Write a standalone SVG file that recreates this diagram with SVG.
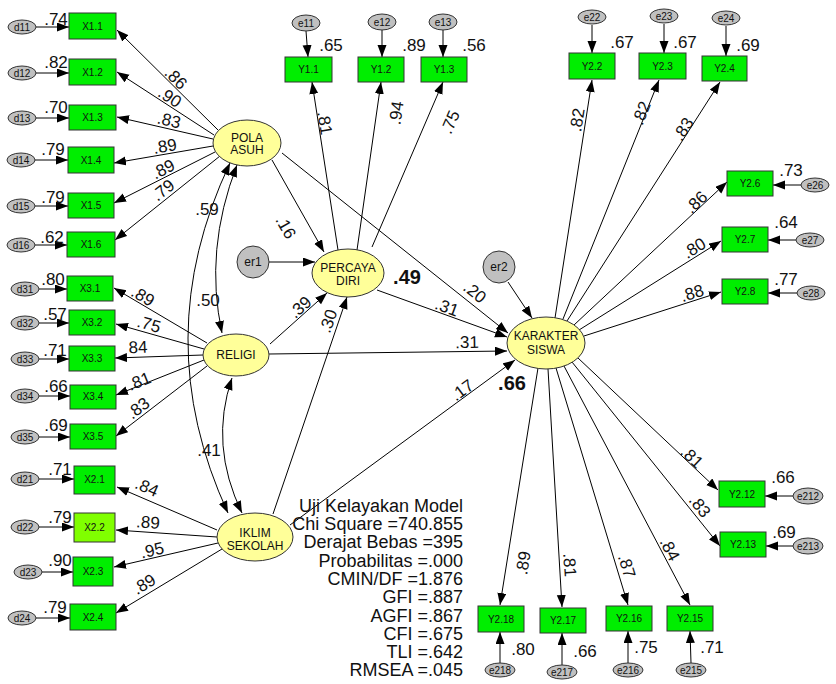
<svg xmlns="http://www.w3.org/2000/svg" width="836" height="684" viewBox="0 0 836 684">
<style>
.box{fill:#00ee00;stroke:#333;stroke-width:1}
.box2{fill:#80ff00;stroke:#333;stroke-width:1}
.lat{fill:#ffff99;stroke:#333;stroke-width:1}
.err{fill:#c0c0c0;stroke:#333;stroke-width:1}
.ln{fill:none;stroke:#000;stroke-width:1;marker-end:url(#ah)}
.arc{fill:none;stroke:#000;stroke-width:1;marker-end:url(#ah);marker-start:url(#ahs)}
text{font-family:"Liberation Sans",Arial,sans-serif;fill:#111}
.lb{font-size:17px;text-anchor:middle}
.sm{font-size:10px;text-anchor:middle}
.md{font-size:12px;text-anchor:middle}
.bd{font-size:20px;font-weight:bold;text-anchor:middle}
.st{font-size:18px;text-anchor:end}
</style>
<defs>
<marker id="ah" markerUnits="userSpaceOnUse" markerWidth="12" markerHeight="10" refX="12" refY="4.5" orient="auto"><path d="M0,0 L12,4.5 L0,9 z" fill="#000"/></marker>
<marker id="ahs" markerUnits="userSpaceOnUse" markerWidth="12" markerHeight="10" refX="12" refY="4.5" orient="auto-start-reverse"><path d="M0,0 L12,4.5 L0,9 z" fill="#000"/></marker>
</defs>
<rect width="836" height="684" fill="#fff"/>

<g id="connectors">
<!-- d -> X -->
<line class="ln" x1="36" y1="27" x2="69" y2="27"/>
<line class="ln" x1="36" y1="73" x2="69" y2="73"/>
<line class="ln" x1="36" y1="118" x2="69" y2="118"/>
<line class="ln" x1="35" y1="160" x2="68" y2="160"/>
<line class="ln" x1="35" y1="206" x2="68" y2="206"/>
<line class="ln" x1="35" y1="245" x2="67" y2="245"/>
<line class="ln" x1="39" y1="289" x2="67" y2="289"/>
<line class="ln" x1="39" y1="323" x2="69" y2="323"/>
<line class="ln" x1="39" y1="359" x2="69" y2="359"/>
<line class="ln" x1="39" y1="396" x2="70" y2="396"/>
<line class="ln" x1="39" y1="437" x2="70" y2="437"/>
<line class="ln" x1="39" y1="479" x2="74" y2="479"/>
<line class="ln" x1="39" y1="527" x2="74" y2="527"/>
<line class="ln" x1="42" y1="572" x2="73" y2="572"/>
<line class="ln" x1="36" y1="618" x2="70" y2="618"/>
<!-- e -> Y -->
<line class="ln" x1="306" y1="31" x2="308" y2="57"/>
<line class="ln" x1="382" y1="30" x2="382" y2="57"/>
<line class="ln" x1="443" y1="30" x2="443" y2="57"/>
<line class="ln" x1="592" y1="25" x2="592" y2="53"/>
<line class="ln" x1="664" y1="24" x2="664" y2="53"/>
<line class="ln" x1="726" y1="26" x2="726" y2="56"/>
<line class="ln" x1="801" y1="185" x2="773" y2="185"/>
<line class="ln" x1="796" y1="240" x2="768" y2="240"/>
<line class="ln" x1="797" y1="293" x2="768" y2="293"/>
<line class="ln" x1="793" y1="496" x2="765" y2="496"/>
<line class="ln" x1="793" y1="546" x2="766" y2="546"/>
<line class="ln" x1="500" y1="663" x2="500" y2="632"/>
<line class="ln" x1="562" y1="665" x2="562" y2="633"/>
<line class="ln" x1="628" y1="663" x2="628" y2="631"/>
<line class="ln" x1="691" y1="663" x2="690" y2="631"/>
<!-- POLA ASUH -> X1 -->
<line class="ln" x1="218" y1="130" x2="117" y2="30"/>
<line class="ln" x1="214" y1="135" x2="117" y2="72"/>
<line class="ln" x1="213" y1="139" x2="117" y2="117"/>
<line class="ln" x1="213" y1="146" x2="114" y2="163"/>
<line class="ln" x1="215" y1="152" x2="114" y2="203"/>
<line class="ln" x1="220" y1="156" x2="115" y2="240"/>
<!-- RELIGI -> X3 -->
<line class="ln" x1="207" y1="343" x2="114" y2="288"/>
<line class="ln" x1="204" y1="349" x2="116" y2="324"/>
<line class="ln" x1="203" y1="355" x2="115" y2="358"/>
<line class="ln" x1="204" y1="360" x2="116" y2="395"/>
<line class="ln" x1="207" y1="366" x2="116" y2="436"/>
<!-- IKLIM -> X2 -->
<line class="ln" x1="217" y1="530" x2="117" y2="487"/>
<line class="ln" x1="217" y1="537" x2="116" y2="530"/>
<line class="ln" x1="218" y1="543" x2="114" y2="567"/>
<line class="ln" x1="222" y1="549" x2="116" y2="613"/>
<!-- correlations -->
<path class="arc" d="M230,163 Q147,338 228,513"/>
<path class="arc" d="M237,165 Q204,250 222,333"/>
<path class="arc" d="M232,378 Q209,445 242,513"/>
<!-- structural -->
<line class="ln" x1="272" y1="160" x2="324" y2="252"/>
<line class="ln" x1="282" y1="153" x2="508" y2="333"/>
<line class="ln" x1="269" y1="262" x2="315" y2="262"/>
<line class="ln" x1="508" y1="282" x2="532" y2="318"/>
<line class="ln" x1="377" y1="290" x2="507" y2="337"/>
<line class="ln" x1="269" y1="354" x2="507" y2="351"/>
<line class="ln" x1="270" y1="344" x2="327" y2="293"/>
<line class="ln" x1="273" y1="514" x2="347" y2="297"/>
<line class="ln" x1="290" y1="525" x2="515" y2="360"/>
<!-- PERCAYA DIRI -> Y1 -->
<line class="ln" x1="338" y1="250" x2="312" y2="82"/>
<line class="ln" x1="357" y1="250" x2="381" y2="82"/>
<line class="ln" x1="372" y1="247" x2="443" y2="82"/>
<!-- KARAKTER -> Y2 -->
<line class="ln" x1="555" y1="318" x2="592" y2="80"/>
<line class="ln" x1="563" y1="319" x2="659" y2="80"/>
<line class="ln" x1="567" y1="321" x2="720" y2="82"/>
<line class="ln" x1="574" y1="325" x2="727" y2="182"/>
<line class="ln" x1="579" y1="330" x2="721" y2="241"/>
<line class="ln" x1="584" y1="336" x2="721" y2="292"/>
<line class="ln" x1="578" y1="358" x2="718" y2="490"/>
<line class="ln" x1="572" y1="362" x2="720" y2="546"/>
<line class="ln" x1="564" y1="366" x2="690" y2="605"/>
<line class="ln" x1="556" y1="368" x2="628" y2="605"/>
<line class="ln" x1="548" y1="369" x2="562" y2="607"/>
<line class="ln" x1="538" y1="368" x2="500" y2="605"/>
</g>

<g id="labels">
<!-- left residual values -->
<text class="lb" x="56" y="25">.74</text>
<text class="lb" x="56" y="68">.82</text>
<text class="lb" x="56" y="113">.70</text>
<text class="lb" x="53" y="155">.79</text>
<text class="lb" x="53" y="203">.79</text>
<text class="lb" x="52" y="243">.62</text>
<text class="lb" x="53" y="285">.80</text>
<text class="lb" x="55" y="320">.57</text>
<text class="lb" x="55" y="356">.71</text>
<text class="lb" x="56" y="392">.66</text>
<text class="lb" x="56" y="431">.69</text>
<text class="lb" x="60" y="475">.71</text>
<text class="lb" x="60" y="523">.79</text>
<text class="lb" x="60" y="566">.90</text>
<text class="lb" x="55" y="613">.79</text>
<!-- loadings POLA -->
<text class="lb" transform="translate(176,78) rotate(44.7)" y="6">.86</text>
<text class="lb" transform="translate(170,97) rotate(33)" y="6">.90</text>
<text class="lb" transform="translate(169,120) rotate(12.9)" y="6">.83</text>
<text class="lb" transform="translate(165,146) rotate(-9.7)" y="6">.89</text>
<text class="lb" transform="translate(163,169) rotate(-26.8)" y="6">.89</text>
<text class="lb" transform="translate(163,190) rotate(-38.7)" y="6">.79</text>
<!-- RELIGI -->
<text class="lb" transform="translate(143,296) rotate(30.6)" y="6">.89</text>
<text class="lb" transform="translate(149,324) rotate(15.9)" y="6">.75</text>
<text class="lb" transform="translate(138,347) rotate(-2)" y="6">84</text>
<text class="lb" transform="translate(139,381) rotate(-21.7)" y="6">.81</text>
<text class="lb" transform="translate(138,408) rotate(-37.6)" y="6">.83</text>
<!-- IKLIM -->
<text class="lb" transform="translate(147,487) rotate(23.3)" y="6">.84</text>
<text class="lb" transform="translate(148,522) rotate(4)" y="6">.89</text>
<text class="lb" transform="translate(152,550) rotate(-13)" y="6">.95</text>
<text class="lb" transform="translate(144,584) rotate(-31)" y="6">.89</text>
<!-- correlations -->
<text class="lb" x="207" y="215">.59</text>
<text class="lb" x="208" y="306">.50</text>
<text class="lb" x="209" y="456">.41</text>
<!-- structural -->
<text class="lb" transform="translate(286,227) rotate(60.5)" y="6">.16</text>
<text class="lb" transform="translate(475,292) rotate(38.5)" y="6">.20</text>
<text class="lb" transform="translate(447,307) rotate(19.9)" y="6">.31</text>
<text class="lb" transform="translate(467,342) rotate(-1)" y="6">.31</text>
<text class="lb" transform="translate(300,307) rotate(-41.8)" y="6">.39</text>
<text class="lb" transform="translate(328,321) rotate(-71.2)" y="6">.30</text>
<text class="lb" transform="translate(462,390) rotate(-36.3)" y="6">.17</text>
<text class="bd" x="407" y="284">.49</text>
<text class="bd" x="512" y="390">.66</text>
<!-- Y1 -->
<text class="lb" x="331" y="51">.65</text>
<text class="lb" x="414" y="51">.89</text>
<text class="lb" x="474" y="51">.56</text>
<text class="lb" transform="translate(325,123) rotate(81)" y="6">.81</text>
<text class="lb" transform="translate(396,113) rotate(-82)" y="6">.94</text>
<text class="lb" transform="translate(450,122) rotate(-66.7)" y="6">.75</text>
<!-- Y2 -->
<text class="lb" x="622" y="48">.67</text>
<text class="lb" x="685" y="48">.67</text>
<text class="lb" x="748" y="51">.69</text>
<text class="lb" x="791" y="176">.73</text>
<text class="lb" x="786" y="228">.64</text>
<text class="lb" x="786" y="285">.77</text>
<text class="lb" x="783" y="483">.66</text>
<text class="lb" x="784" y="538">.69</text>
<text class="lb" x="523" y="655">.80</text>
<text class="lb" x="585" y="657">.66</text>
<text class="lb" x="646" y="653">.75</text>
<text class="lb" x="712" y="653">.71</text>
<text class="lb" transform="translate(577,120) rotate(-81)" y="6">.82</text>
<text class="lb" transform="translate(641,113) rotate(-68)" y="6">.82</text>
<text class="lb" transform="translate(683,129) rotate(-57)" y="6">.83</text>
<text class="lb" transform="translate(696,202) rotate(-43)" y="6">.86</text>
<text class="lb" transform="translate(694,248) rotate(-32)" y="6">.80</text>
<text class="lb" transform="translate(692,293) rotate(-17.4)" y="6">.88</text>
<text class="lb" transform="translate(692,457) rotate(43)" y="6">.81</text>
<text class="lb" transform="translate(700,506) rotate(51)" y="6">.83</text>
<text class="lb" transform="translate(670,549) rotate(62)" y="6">.84</text>
<text class="lb" transform="translate(627,566) rotate(73)" y="6">.87</text>
<text class="lb" transform="translate(570,565) rotate(86.6)" y="6">.81</text>
<text class="lb" transform="translate(523,563) rotate(-81)" y="6">.89</text>
</g>

<g id="fit-stats">
<text class="st" x="463" y="512">Uji Kelayakan Model</text>
<text class="st" x="463" y="530">Chi Square =740.855</text>
<text class="st" x="463" y="548">Derajat Bebas =395</text>
<text class="st" x="463" y="567">Probabilitas =.000</text>
<text class="st" x="463" y="585">CMIN/DF =1.876</text>
<text class="st" x="463" y="603">GFI =.887</text>
<text class="st" x="463" y="622">AGFI =.867</text>
<text class="st" x="463" y="640">CFI =.675</text>
<text class="st" x="463" y="658">TLI =.642</text>
<text class="st" x="463" y="676">RMSEA =.045</text>
</g>

<!-- latent variables -->
<g id="pola-asuh"><ellipse class="lat" cx="247" cy="143" rx="34" ry="23"/><text class="md" x="247" y="142">POLA</text><text class="md" x="247" y="154">ASUH</text></g>
<g id="percaya-diri"><ellipse class="lat" cx="348" cy="273" rx="36" ry="24"/><text class="md" x="348" y="272">PERCAYA</text><text class="md" x="348" y="285">DIRI</text></g>
<g id="religi"><ellipse class="lat" cx="236" cy="355" rx="33" ry="21"/><text class="md" x="236" y="359">RELIGI</text></g>
<g id="iklim-sekolah"><ellipse class="lat" cx="255" cy="537" rx="38" ry="24"/><text class="md" x="255" y="537">IKLIM</text><text class="md" x="255" y="550">SEKOLAH</text></g>
<g id="karakter-siswa"><ellipse class="lat" cx="546" cy="343" rx="39" ry="26"/><text class="md" x="546" y="340">KARAKTER</text><text class="md" x="546" y="354">SISWA</text></g>
<g id="er1"><circle class="err" cx="253" cy="262" r="16"/><text class="md" x="253" y="266">er1</text></g>
<g id="er2"><circle class="err" cx="499" cy="267" r="16"/><text class="md" x="499" y="271">er2</text></g>

<!-- X1 -->
<g id="x1-1"><rect class="box" x="69" y="13" width="47" height="26"/><text class="sm" x="92.5" y="30">X1.1</text></g>
<g id="x1-2"><rect class="box" x="69" y="59" width="47" height="26"/><text class="sm" x="92.5" y="76">X1.2</text></g>
<g id="x1-3"><rect class="box" x="69" y="105" width="47" height="25"/><text class="sm" x="92.5" y="121">X1.3</text></g>
<g id="x1-4"><rect class="box" x="68" y="147" width="46" height="26"/><text class="sm" x="91" y="164">X1.4</text></g>
<g id="x1-5"><rect class="box" x="68" y="193" width="46" height="25"/><text class="sm" x="91" y="209">X1.5</text></g>
<g id="x1-6"><rect class="box" x="67" y="232" width="48" height="25"/><text class="sm" x="91" y="248">X1.6</text></g>
<g id="d11"><ellipse class="err" cx="22" cy="27" rx="14" ry="7"/><text class="sm" x="22" y="31">d11</text></g>
<g id="d12"><ellipse class="err" cx="22" cy="73" rx="14" ry="7"/><text class="sm" x="22" y="77">d12</text></g>
<g id="d13"><ellipse class="err" cx="22" cy="118" rx="14" ry="7"/><text class="sm" x="22" y="122">d13</text></g>
<g id="d14"><ellipse class="err" cx="21" cy="160" rx="14" ry="7"/><text class="sm" x="21" y="164">d14</text></g>
<g id="d15"><ellipse class="err" cx="21" cy="206" rx="14" ry="7"/><text class="sm" x="21" y="210">d15</text></g>
<g id="d16"><ellipse class="err" cx="21" cy="245" rx="14" ry="7"/><text class="sm" x="21" y="249">d16</text></g>
<!-- X3 -->
<g id="x3-1"><rect class="box" x="67" y="276" width="46" height="25"/><text class="sm" x="90" y="292">X3.1</text></g>
<g id="x3-2"><rect class="box" x="69" y="310" width="46" height="25"/><text class="sm" x="92" y="326">X3.2</text></g>
<g id="x3-3"><rect class="box" x="69" y="346" width="46" height="25"/><text class="sm" x="92" y="362">X3.3</text></g>
<g id="x3-4"><rect class="box" x="70" y="385" width="46" height="24"/><text class="sm" x="93" y="400">X3.4</text></g>
<g id="x3-5"><rect class="box" x="70" y="424" width="46" height="25"/><text class="sm" x="93" y="440">X3.5</text></g>
<g id="d31"><ellipse class="err" cx="25" cy="289" rx="14" ry="7"/><text class="sm" x="25" y="293">d31</text></g>
<g id="d32"><ellipse class="err" cx="25" cy="323" rx="14" ry="7"/><text class="sm" x="25" y="327">d32</text></g>
<g id="d33"><ellipse class="err" cx="25" cy="359" rx="14" ry="7"/><text class="sm" x="25" y="363">d33</text></g>
<g id="d34"><ellipse class="err" cx="25" cy="396" rx="14" ry="7"/><text class="sm" x="25" y="400">d34</text></g>
<g id="d35"><ellipse class="err" cx="25" cy="437" rx="14" ry="7"/><text class="sm" x="25" y="441">d35</text></g>
<!-- X2 -->
<g id="x2-1"><rect class="box" x="74" y="466" width="41" height="28"/><text class="sm" x="94.5" y="483">X2.1</text></g>
<g id="x2-2"><rect class="box2" x="74" y="513" width="41" height="29"/><text class="sm" x="94.5" y="531">X2.2</text></g>
<g id="x2-3"><rect class="box" x="73" y="557" width="40" height="29"/><text class="sm" x="93" y="575">X2.3</text></g>
<g id="x2-4"><rect class="box" x="70" y="604" width="46" height="26"/><text class="sm" x="93" y="621">X2.4</text></g>
<g id="d21"><ellipse class="err" cx="25" cy="479" rx="14" ry="7"/><text class="sm" x="25" y="483">d21</text></g>
<g id="d22"><ellipse class="err" cx="25" cy="527" rx="14" ry="7"/><text class="sm" x="25" y="531">d22</text></g>
<g id="d23"><ellipse class="err" cx="28" cy="572" rx="14" ry="7"/><text class="sm" x="28" y="576">d23</text></g>
<g id="d24"><ellipse class="err" cx="22" cy="618" rx="14" ry="7"/><text class="sm" x="22" y="622">d24</text></g>
<!-- Y1 -->
<g id="y1-1"><rect class="box" x="285" y="57" width="47" height="25"/><text class="sm" x="308.5" y="73">Y1.1</text></g>
<g id="y1-2"><rect class="box" x="358" y="57" width="46" height="25"/><text class="sm" x="381" y="73">Y1.2</text></g>
<g id="y1-3"><rect class="box" x="421" y="57" width="46" height="25"/><text class="sm" x="444" y="73">Y1.3</text></g>
<g id="e11"><ellipse class="err" cx="306" cy="23" rx="14" ry="8"/><text class="sm" x="306" y="27">e11</text></g>
<g id="e12"><ellipse class="err" cx="382" cy="22" rx="14" ry="8"/><text class="sm" x="382" y="26">e12</text></g>
<g id="e13"><ellipse class="err" cx="443" cy="22" rx="14" ry="8"/><text class="sm" x="443" y="26">e13</text></g>
<!-- Y2 top -->
<g id="y2-2"><rect class="box" x="569" y="53" width="46" height="26"/><text class="sm" x="592" y="70">Y2.2</text></g>
<g id="y2-3"><rect class="box" x="639" y="53" width="47" height="26"/><text class="sm" x="662.5" y="70">Y2.3</text></g>
<g id="y2-4"><rect class="box" x="702" y="56" width="45" height="25"/><text class="sm" x="724.5" y="72">Y2.4</text></g>
<g id="e22"><ellipse class="err" cx="592" cy="17" rx="14" ry="7"/><text class="sm" x="592" y="21">e22</text></g>
<g id="e23"><ellipse class="err" cx="664" cy="16" rx="14" ry="7"/><text class="sm" x="664" y="20">e23</text></g>
<g id="e24"><ellipse class="err" cx="726" cy="18" rx="14" ry="7"/><text class="sm" x="726" y="22">e24</text></g>
<!-- Y2 right -->
<g id="y2-6"><rect class="box" x="727" y="171" width="46" height="25"/><text class="sm" x="750" y="187">Y2.6</text></g>
<g id="y2-7"><rect class="box" x="722" y="227" width="46" height="25"/><text class="sm" x="745" y="243">Y2.7</text></g>
<g id="y2-8"><rect class="box" x="722" y="279" width="46" height="25"/><text class="sm" x="745" y="295">Y2.8</text></g>
<g id="e26"><ellipse class="err" cx="815" cy="185" rx="14" ry="7"/><text class="sm" x="815" y="189">e26</text></g>
<g id="e27"><ellipse class="err" cx="810" cy="240" rx="14" ry="7"/><text class="sm" x="810" y="244">e27</text></g>
<g id="e28"><ellipse class="err" cx="811" cy="293" rx="14" ry="7"/><text class="sm" x="811" y="297">e28</text></g>
<g id="y2-12"><rect class="box" x="719" y="481" width="46" height="26"/><text class="sm" x="742" y="498">Y2.12</text></g>
<g id="y2-13"><rect class="box" x="720" y="532" width="46" height="25"/><text class="sm" x="743" y="548">Y2.13</text></g>
<g id="e212"><ellipse class="err" cx="808" cy="496" rx="15" ry="8"/><text class="sm" x="808" y="500">e212</text></g>
<g id="e213"><ellipse class="err" cx="808" cy="546" rx="15" ry="8"/><text class="sm" x="808" y="550">e213</text></g>
<!-- Y2 bottom -->
<g id="y2-18"><rect class="box" x="478" y="606" width="46" height="26"/><text class="sm" x="501" y="623">Y2.18</text></g>
<g id="y2-17"><rect class="box" x="540" y="608" width="46" height="25"/><text class="sm" x="563" y="624">Y2.17</text></g>
<g id="y2-16"><rect class="box" x="606" y="606" width="46" height="25"/><text class="sm" x="629" y="622">Y2.16</text></g>
<g id="y2-15"><rect class="box" x="667" y="606" width="46" height="25"/><text class="sm" x="690" y="622">Y2.15</text></g>
<g id="e218"><ellipse class="err" cx="500" cy="670" rx="15" ry="7"/><text class="sm" x="500" y="674">e218</text></g>
<g id="e217"><ellipse class="err" cx="562" cy="672" rx="15" ry="7"/><text class="sm" x="562" y="676">e217</text></g>
<g id="e216"><ellipse class="err" cx="628" cy="670" rx="15" ry="7"/><text class="sm" x="628" y="674">e216</text></g>
<g id="e215"><ellipse class="err" cx="691" cy="670" rx="15" ry="7"/><text class="sm" x="691" y="674">e215</text></g>
</svg>
